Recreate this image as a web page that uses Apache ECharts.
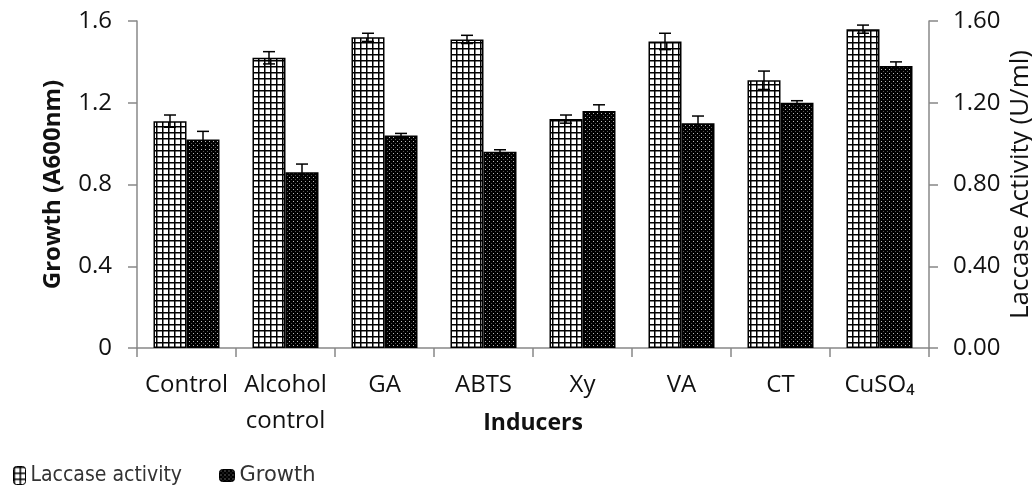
<!DOCTYPE html>
<html><head><meta charset="utf-8">
<script src="https://cdn.jsdelivr.net/npm/echarts@6/dist/echarts.min.js"></script>
<style>html,body{margin:0;padding:0;background:#fff}#c{width:1032px;height:486px}</style>
</head><body><div id="c"></div>
<script>
const categories = ['Control', 'Alcohol\ncontrol', 'GA', 'ABTS', 'Xy', 'VA', 'CT', 'CuSO\u2084'];
const laccase = [1.11, 1.42, 1.52, 1.51, 1.12, 1.50, 1.31, 1.56];
const laccaseErr = [0.03, 0.03, 0.02, 0.02, 0.02, 0.04, 0.045, 0.02];
const growth = [1.02, 0.86, 1.04, 0.96, 1.16, 1.10, 1.20, 1.38];
const growthErr = [0.04, 0.04, 0.01, 0.01, 0.03, 0.035, 0.01, 0.02];
const leftTicks = ['0', '0.4', '0.8', '1.2', '1.6'];
const rightTicks = ['0.00', '0.40', '0.80', '1.20', '1.60'];

function gridPattern() {
  const c = document.createElement('canvas'); c.width = 6; c.height = 6;
  const g = c.getContext('2d');
  g.fillStyle = '#fff'; g.fillRect(0, 0, 6, 6);
  g.fillStyle = '#000'; g.fillRect(0, 0, 6, 1.5); g.fillRect(0, 0, 1.5, 6);
  return c;
}
function dotPattern() {
  const c = document.createElement('canvas'); c.width = 4; c.height = 4;
  const g = c.getContext('2d');
  g.fillStyle = '#000'; g.fillRect(0, 0, 4, 4);
  g.fillStyle = '#bbb'; g.fillRect(1, 1, 1, 1);
  g.fillStyle = '#555'; g.fillRect(3, 3, 1, 1);
  return c;
}
const gridFill = { image: gridPattern(), repeat: 'repeat' };
const dotFill = { image: dotPattern(), repeat: 'repeat' };

const BW = 33;
function errSeries(vals, errs, offset, axisIdx) {
  return {
    type: 'custom', yAxisIndex: axisIdx, z: 10, silent: true,
    data: vals.map((v, i) => [i, v, errs[i]]),
    encode: { x: 0, y: 1 },
    renderItem: function (params, api) {
      const i = api.value(0), v = api.value(1), e = api.value(2);
      const top = api.coord([i, v + e]);
      const bot = api.coord([i, v - e]);
      const x = top[0] + offset;
      const s = { stroke: '#000', lineWidth: 1.5 };
      return { type: 'group', children: [
        { type: 'line', shape: { x1: x, y1: top[1], x2: x, y2: bot[1] }, style: s },
        { type: 'line', shape: { x1: x - 6, y1: top[1], x2: x + 6, y2: top[1] }, style: s },
        { type: 'line', shape: { x1: x - 6, y1: bot[1], x2: x + 6, y2: bot[1] }, style: s }
      ] };
    }
  };
}

const chart = echarts.init(document.getElementById('c'), null, { renderer: 'canvas' });
const tickFont = { fontFamily: 'Open Sans', fontSize: 24, color: '#111' };
const axisLineStyle = { color: '#888', width: 1.5 };
chart.setOption({
  animation: false,
  grid: { left: 137, right: 103, top: 21, bottom: 138, containLabel: false, outerBoundsMode: 'none' },
  legend: [
    {
      left: 8, top: 460, itemWidth: 12, itemHeight: 18, itemGap: 0,
      data: [{ name: 'Laccase activity' }],
      textStyle: { fontFamily: 'DejaVu Sans Condensed', fontSize: 21, color: '#333' },
      itemStyle: { borderColor: '#000', borderWidth: 1 }
    },
    {
      left: 214, top: 460, itemWidth: 15, itemHeight: 12, itemGap: 0,
      data: [{ name: 'Growth' }],
      textStyle: { fontFamily: 'DejaVu Sans', fontSize: 21, color: '#333' },
      itemStyle: { borderColor: '#000', borderWidth: 1 }
    }
  ],
  xAxis: {
    type: 'category', data: categories,
    name: 'Inducers', nameLocation: 'middle', nameGap: 64, nameMoveOverlap: false,
    nameTextStyle: { fontFamily: 'Open Sans', fontSize: 23, fontWeight: 'bold', color: '#111' },
    axisLine: { lineStyle: axisLineStyle },
    axisTick: { show: true, length: 9, lineStyle: axisLineStyle },
    axisLabel: Object.assign({ margin: 19, lineHeight: 36, interval: 0, hideOverlap: false }, tickFont)
  },
  yAxis: [
    {
      type: 'value', min: 0, max: 1.6, interval: 0.4, position: 'left',
      name: 'Growth (A600nm)', nameLocation: 'middle', nameRotate: 90, nameGap: 72, nameMoveOverlap: false,
      nameTextStyle: { fontFamily: 'Open Sans', fontSize: 24, fontWeight: 'bold', color: '#111' },
      axisLine: { show: true, lineStyle: axisLineStyle },
      axisTick: { show: true, length: 9, lineStyle: axisLineStyle },
      splitLine: { show: false },
      axisLabel: Object.assign({ margin: 25, formatter: (v) => leftTicks[Math.round(v / 0.4)] }, tickFont)
    },
    {
      type: 'value', min: 0, max: 1.6, interval: 0.4, position: 'right',
      name: 'Laccase Activity (U/ml)', nameLocation: 'middle', nameRotate: 90, nameGap: 79, nameMoveOverlap: false,
      nameTextStyle: { fontFamily: 'Open Sans', fontSize: 26, color: '#111' },
      axisLine: { show: true, lineStyle: axisLineStyle },
      axisTick: { show: true, length: 9, lineStyle: axisLineStyle },
      splitLine: { show: false },
      axisLabel: Object.assign({ margin: 24, formatter: (v) => rightTicks[Math.round(v / 0.4)] }, tickFont)
    }
  ],
  series: [
    { name: 'Laccase activity', type: 'bar', yAxisIndex: 1, data: laccase, barWidth: BW, barGap: '0%',
      itemStyle: { color: gridFill, borderColor: '#000', borderWidth: 1.5 } },
    { name: 'Growth', type: 'bar', yAxisIndex: 0, data: growth, barWidth: BW, barGap: '0%',
      itemStyle: { color: dotFill, borderColor: '#000', borderWidth: 1.5 } },
    errSeries(laccase, laccaseErr, -BW / 2, 1),
    errSeries(growth, growthErr, BW / 2, 0)
  ]
});
</script></body></html>
